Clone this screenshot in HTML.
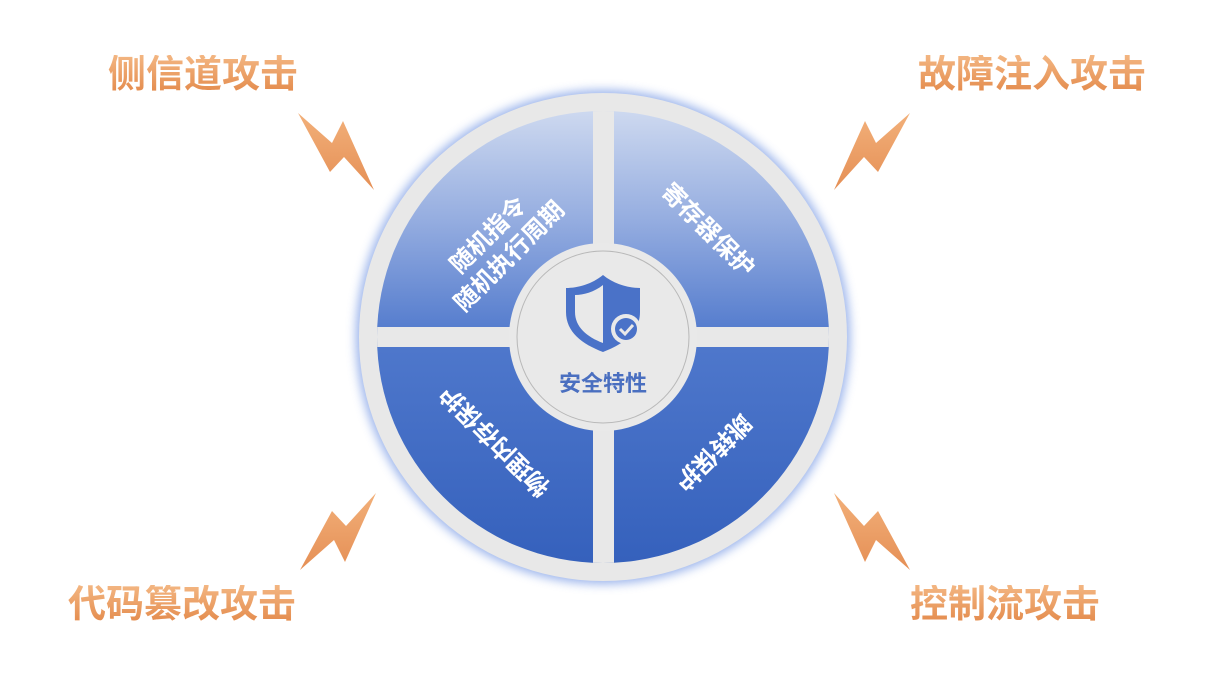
<!DOCTYPE html>
<html><head><meta charset="utf-8"><style>
html,body{margin:0;padding:0;background:#fff;}
body{width:1216px;height:674px;position:relative;overflow:hidden;font-family:"Liberation Sans","Noto Sans CJK SC",sans-serif;}
.lbl{position:absolute;font-size:38px;font-weight:bold;line-height:40px;white-space:nowrap;
background:linear-gradient(#f3b682,#e3894a);-webkit-background-clip:text;background-clip:text;color:transparent;letter-spacing:0px;}
svg{position:absolute;left:0;top:0;}
</style></head><body>
<svg width="1216" height="674" viewBox="0 0 1216 674">
<defs>
<linearGradient id="bl" x1="0" y1="0" x2="0" y2="1">
<stop offset="0" stop-color="#d3ddf1"/>
<stop offset="0.25" stop-color="#95ade0"/>
<stop offset="0.5" stop-color="#4f78cc"/>
<stop offset="1" stop-color="#335fbb"/>
</linearGradient>
<linearGradient id="bolt" x1="0" y1="0" x2="0" y2="1">
<stop offset="0" stop-color="#f2b07a"/><stop offset="1" stop-color="#e58f55"/>
</linearGradient>
<filter id="glow" x="-20%" y="-20%" width="140%" height="140%"><feGaussianBlur stdDeviation="5"/></filter>
<clipPath id="disc"><circle cx="603" cy="337" r="226"/></clipPath>
</defs>
<circle cx="603" cy="337" r="247" fill="#7f9fe6" filter="url(#glow)" opacity="0.8"/>
<circle cx="603" cy="337" r="244" fill="#e8e8e8"/>
<g clip-path="url(#disc)">
<rect x="370" y="100" width="470" height="480" fill="url(#bl)"/>
<rect x="593" y="100" width="21" height="480" fill="#e8e8e8"/>
<rect x="370" y="327" width="470" height="20" fill="#e8e8e8"/>
</g>
<circle cx="603" cy="337" r="94" fill="#e9e9e9"/>
<circle cx="603" cy="337" r="86" fill="none" stroke="#b8b8b8" stroke-width="1"/>
<path d="M603 275 C592 284 578 288 566 288 L566 312 C566 332 582 344 603 352 C624 344 640 332 640 312 L640 288 C628 288 614 284 603 275 Z" fill="#4a72c8"/>
<path d="M603 285 C594 292 584 295 575 295 L575 312 C575 327 587 337 603 343 L603 285 Z" fill="#e9e9e9"/>
<path d="M606 290 L606 340 C618 335 630 326 630 312 L630 297 C621 296 613 294 606 290Z" fill="#4a72c8"/>
<circle cx="626" cy="329" r="15" fill="#e9e9e9"/>
<circle cx="626" cy="329" r="11" fill="#4a72c8"/>
<path d="M620 329 L625 334 L633 325" stroke="#e9e9e9" stroke-width="3" fill="none"/>
<text x="603" y="391" text-anchor="middle" font-size="22" font-weight="bold" fill="#4a6fc0" font-family="Liberation Sans,Noto Sans CJK SC,sans-serif">安全特性</text>
<g font-family="Liberation Sans,Noto Sans CJK SC,sans-serif" font-weight="bold" font-size="24" fill="#fff" text-anchor="middle">
<g transform="translate(498,245) rotate(-45)"><text x="0" y="-6">随机指令</text><text x="0" y="24">随机执行周期</text></g>
<g transform="translate(708,230) rotate(45)"><text x="0" y="8">寄存器保护</text></g>
<g transform="translate(495,441) rotate(-135)"><text x="0" y="8">物理内存保护</text></g>
<g transform="translate(713,452) rotate(135)"><text x="0" y="8">跳转保护</text></g>
</g>
<g fill="url(#bolt)">
<polygon points="298,113 332,143 343,121 374,190 344,157 330,172"/>
<polygon points="910,113 876,143 865,121 834,190 864,157 878,172" />
<polygon points="300,570 334,540 345,562 376,493 346,526 332,511"/>
<polygon points="910,570 876,540 865,562 834,493 864,526 878,511"/>
</g>
</svg>
<div class="lbl" style="left:108px;top:55px;">侧信道攻击</div>
<div class="lbl" style="left:918px;top:55px;">故障注入攻击</div>
<div class="lbl" style="left:68px;top:585px;">代码篡改攻击</div>
<div class="lbl" style="left:910px;top:585px;">控制流攻击</div>
</body></html>
